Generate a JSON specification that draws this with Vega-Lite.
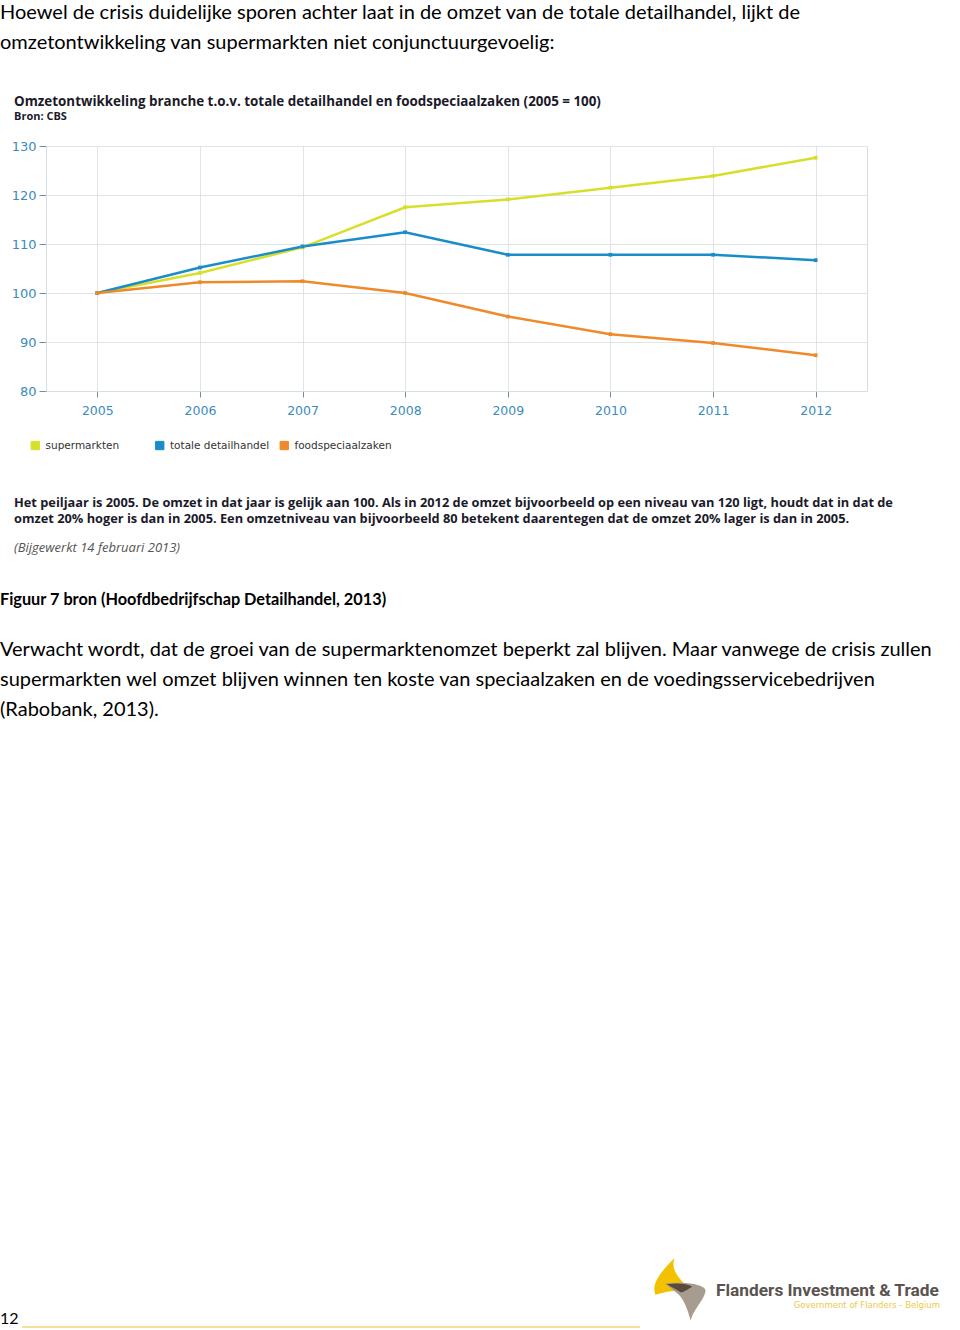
{
  "$schema": "https://vega.github.io/schema/vega-lite/v6.json",
  "width": 821,
  "height": 245,
  "autosize": {"type": "none"},
  "padding": {"left": 46, "top": 146, "right": 93, "bottom": 939},
  "background": "white",
  "config": {"view": {"stroke": "#d5dde5", "strokeWidth": 1}},
  "layer": [
    {
      "data": {"values": [
        {"jaar": 2005, "reeks": "supermarkten", "index": 100},
        {"jaar": 2006, "reeks": "supermarkten", "index": 104.1},
        {"jaar": 2007, "reeks": "supermarkten", "index": 109.3},
        {"jaar": 2008, "reeks": "supermarkten", "index": 117.5},
        {"jaar": 2009, "reeks": "supermarkten", "index": 119.1},
        {"jaar": 2010, "reeks": "supermarkten", "index": 121.5},
        {"jaar": 2011, "reeks": "supermarkten", "index": 123.9},
        {"jaar": 2012, "reeks": "supermarkten", "index": 127.6},
        {"jaar": 2005, "reeks": "totale detailhandel", "index": 100},
        {"jaar": 2006, "reeks": "totale detailhandel", "index": 105.2},
        {"jaar": 2007, "reeks": "totale detailhandel", "index": 109.5},
        {"jaar": 2008, "reeks": "totale detailhandel", "index": 112.4},
        {"jaar": 2009, "reeks": "totale detailhandel", "index": 107.8},
        {"jaar": 2010, "reeks": "totale detailhandel", "index": 107.8},
        {"jaar": 2011, "reeks": "totale detailhandel", "index": 107.8},
        {"jaar": 2012, "reeks": "totale detailhandel", "index": 106.7},
        {"jaar": 2005, "reeks": "foodspeciaalzaken", "index": 100},
        {"jaar": 2006, "reeks": "foodspeciaalzaken", "index": 102.2},
        {"jaar": 2007, "reeks": "foodspeciaalzaken", "index": 102.4},
        {"jaar": 2008, "reeks": "foodspeciaalzaken", "index": 100},
        {"jaar": 2009, "reeks": "foodspeciaalzaken", "index": 95.2},
        {"jaar": 2010, "reeks": "foodspeciaalzaken", "index": 91.6},
        {"jaar": 2011, "reeks": "foodspeciaalzaken", "index": 89.8},
        {"jaar": 2012, "reeks": "foodspeciaalzaken", "index": 87.3}
      ]},
      "mark": {"type": "line", "strokeWidth": 2.5, "point": {"shape": "square", "size": 14, "filled": true}},
      "encoding": {
        "x": {
          "field": "jaar", "type": "quantitative",
          "scale": {"domain": [2004.5, 2012.5], "nice": false, "zero": false},
          "axis": {"title": null, "values": [2005, 2006, 2007, 2008, 2009, 2010, 2011, 2012], "format": "d",
            "grid": true, "gridColor": "#dde4ea", "domainColor": "#d5dde5", "tickColor": "#7a8a99", "tickSize": 6,
            "labelColor": "#3b8bbd", "labelFont": "DejaVu Sans", "labelFontSize": 12.5, "labelPadding": 7}
        },
        "y": {
          "field": "index", "type": "quantitative",
          "scale": {"domain": [80, 130], "nice": false, "zero": false},
          "axis": {"title": null, "values": [80, 90, 100, 110, 120, 130],
            "grid": true, "gridColor": "#dde4ea", "domainColor": "#d5dde5", "tickColor": "#7a8a99", "tickSize": 7,
            "labelColor": "#3b8bbd", "labelFont": "DejaVu Sans", "labelFontSize": 13, "labelPadding": 3}
        },
        "color": {
          "field": "reeks", "type": "nominal",
          "sort": ["supermarkten", "totale detailhandel", "foodspeciaalzaken"],
          "scale": {"domain": ["supermarkten", "totale detailhandel", "foodspeciaalzaken"], "range": ["#d8df2a", "#1a8dc9", "#ef8a2a"]},
          "legend": {
            "title": null, "orient": "none", "legendX": -16, "legendY": 294, "direction": "horizontal",
            "gridAlign": "all", "columnPadding": 8.5, "symbolType": "square", "symbolSize": 70,
            "symbolStrokeColor": "#333", "symbolStrokeWidth": 1, "labelOffset": 5,
            "labelFont": "DejaVu Sans", "labelFontSize": 10.5, "labelColor": "#333",
            "encode": {"symbols": {"update": {"fill": {"scale": "color", "field": "value"}, "stroke": {"value": "#333"}, "strokeWidth": {"value": 1}, "shape": {"value": "square"}}}}
          }
        }
      }
    },
    {
      "data": {"values": [{}]},
      "mark": {"type": "text", "align": "left", "baseline": "alphabetic", "font": "Lato", "fontSize": 20, "color": "#000", "lineHeight": 30},
      "encoding": {"text": {"value": ["Hoewel de crisis duidelijke sporen achter laat in de omzet van de totale detailhandel, lijkt de", "omzetontwikkeling van supermarkten niet conjunctuurgevoelig:"]}, "x": {"value": -46}, "y": {"value": -127}}
    },
    {
      "data": {"values": [{}]},
      "mark": {"type": "text", "align": "left", "baseline": "alphabetic", "font": "Open Sans", "fontWeight": "bold", "fontSize": 13.4, "color": "#1a1a2a"},
      "encoding": {"text": {"value": "Omzetontwikkeling branche t.o.v. totale detailhandel en foodspeciaalzaken (2005 = 100)"}, "x": {"value": -32}, "y": {"value": -40.5}}
    },
    {
      "data": {"values": [{}]},
      "mark": {"type": "text", "align": "left", "baseline": "alphabetic", "font": "Open Sans", "fontWeight": "bold", "fontSize": 11, "color": "#1a1a2a"},
      "encoding": {"text": {"value": "Bron: CBS"}, "x": {"value": -32}, "y": {"value": -26}}
    },
    {
      "data": {"values": [{}]},
      "mark": {"type": "text", "align": "left", "baseline": "alphabetic", "font": "Open Sans", "fontWeight": "bold", "fontSize": 12.8, "color": "#1a1a2a", "lineHeight": 16},
      "encoding": {"text": {"value": ["Het peiljaar is 2005. De omzet in dat jaar is gelijk aan 100. Als in 2012 de omzet bijvoorbeeld op een niveau van 120 ligt, houdt dat in dat de", "omzet 20% hoger is dan in 2005. Een omzetniveau van bijvoorbeeld 80 betekent daarentegen dat de omzet 20% lager is dan in 2005."]}, "x": {"value": -32}, "y": {"value": 360.5}}
    },
    {
      "data": {"values": [{}]},
      "mark": {"type": "text", "align": "left", "baseline": "alphabetic", "font": "Open Sans", "fontStyle": "italic", "fontSize": 13, "color": "#555"},
      "encoding": {"text": {"value": "(Bijgewerkt 14 februari 2013)"}, "x": {"value": -32}, "y": {"value": 406}}
    },
    {
      "data": {"values": [{}]},
      "mark": {"type": "text", "align": "left", "baseline": "alphabetic", "font": "Lato", "fontWeight": "bold", "fontSize": 16.3, "color": "#000"},
      "encoding": {"text": {"value": "Figuur 7 bron (Hoofdbedrijfschap Detailhandel, 2013)"}, "x": {"value": -46}, "y": {"value": 459}}
    },
    {
      "data": {"values": [{}]},
      "mark": {"type": "text", "align": "left", "baseline": "alphabetic", "font": "Lato", "fontSize": 20, "color": "#000", "lineHeight": 30},
      "encoding": {"text": {"value": ["Verwacht wordt, dat de groei van de supermarktenomzet beperkt zal blijven. Maar vanwege de crisis zullen", "supermarkten wel omzet blijven winnen ten koste van speciaalzaken en de voedingsservicebedrijven", "(Rabobank, 2013)."]}, "x": {"value": -46}, "y": {"value": 510}}
    },
    {
      "data": {"values": [{}]},
      "mark": {"type": "text", "align": "left", "baseline": "alphabetic", "font": "Lato", "fontSize": 16, "color": "#000"},
      "encoding": {"text": {"value": "12"}, "x": {"value": -46}, "y": {"value": 1178}}
    },
    {
      "data": {"values": [{}]},
      "mark": {"type": "rule", "color": "#f3d37a", "strokeWidth": 1.5},
      "encoding": {"x": {"value": -24}, "x2": {"value": 594}, "y": {"value": 1181}}
    },
    {
      "data": {"values": [{}]},
      "mark": {"type": "point", "filled": true, "color": "#f2c200", "opacity": 1, "size": 4096, "strokeWidth": 0,
        "shape": "M -0.2 -1 C -0.6 -0.6 -0.95 -0.2 -0.8 0.15 C -0.5 0.05 -0.1 0 0.3 0 C 0 -0.3 -0.35 -0.6 -0.2 -1 Z"},
      "encoding": {"x": {"value": 635}, "y": {"value": 1144}}
    },
    {
      "data": {"values": [{}]},
      "mark": {"type": "point", "filled": true, "color": "#a89c90", "opacity": 1, "size": 4096, "strokeWidth": 0,
        "shape": "M -0.5 -0.2 C 0.2 -0.28 0.9 -0.15 0.75 0.1 C 0.65 0.4 0.4 0.6 0.3 0.95 C 0.2 0.6 0.1 0.3 -0.1 0.12 Z"},
      "encoding": {"x": {"value": 635}, "y": {"value": 1144}}
    },
    {
      "data": {"values": [{}]},
      "mark": {"type": "point", "filled": true, "color": "#5a4a3c", "opacity": 1, "size": 4096, "strokeWidth": 0,
        "shape": "M -0.45 -0.18 C -0.1 -0.22 0.2 -0.2 0.35 -0.1 C 0.2 0 0.1 0.05 0 0.08 C -0.15 -0.02 -0.3 -0.1 -0.45 -0.18 Z"},
      "encoding": {"x": {"value": 635}, "y": {"value": 1144}}
    },
    {
      "data": {"values": [{}]},
      "mark": {"type": "text", "align": "left", "baseline": "alphabetic", "font": "Roboto", "fontWeight": "bold", "fontSize": 17.3, "color": "#5b5350"},
      "encoding": {"text": {"value": "Flanders Investment & Trade"}, "x": {"value": 670}, "y": {"value": 1150}}
    },
    {
      "data": {"values": [{}]},
      "mark": {"type": "text", "align": "right", "baseline": "alphabetic", "font": "DejaVu Sans", "fontSize": 8.5, "color": "#ecc94a"},
      "encoding": {"text": {"value": "Government of Flanders - Belgium"}, "x": {"value": 894}, "y": {"value": 1162}}
    }
  ]
}
